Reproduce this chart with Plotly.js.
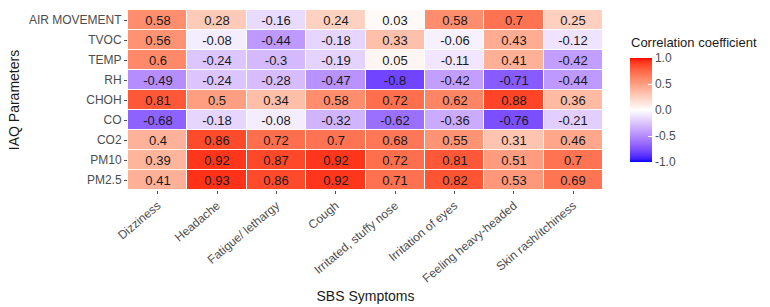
<!DOCTYPE html>
<html>
<head>
<meta charset="utf-8">
<script src="https://cdn.plot.ly/plotly-3.0.1.min.js"></script>
<style>
  html, body { margin: 0; padding: 0; background: #ffffff; }
  #chart { width: 770px; height: 307px; }
</style>
</head>
<body>
<div id="chart"></div>
<script>
// SBS symptoms (columns) and IAQ parameters (rows, listed top to bottom)
const symptoms = ["Dizziness", "Headache", "Fatigue/ lethargy", "Cough",
  "Irritated, stuffy nose", "Irritation of eyes", "Feeling heavy-headed", "Skin rash/itchiness"];
const parameters = ["AIR MOVEMENT", "TVOC", "TEMP", "RH", "CHOH", "CO", "CO2", "PM10", "PM2.5"];

const airMovement = [0.58, 0.28, -0.16, 0.24, 0.03, 0.58, 0.7, 0.25];
const tvoc        = [0.56, -0.08, -0.44, -0.18, 0.33, -0.06, 0.43, -0.12];
const temp        = [0.6, -0.24, -0.3, -0.19, 0.05, -0.11, 0.41, -0.42];
const rh          = [-0.49, -0.24, -0.28, -0.47, -0.8, -0.42, -0.71, -0.44];
const choh        = [0.81, 0.5, 0.34, 0.58, 0.72, 0.62, 0.88, 0.36];
const co          = [-0.68, -0.18, -0.08, -0.32, -0.62, -0.36, -0.76, -0.21];
const co2         = [0.4, 0.86, 0.72, 0.7, 0.68, 0.55, 0.31, 0.46];
const pm10        = [0.39, 0.92, 0.87, 0.92, 0.72, 0.81, 0.51, 0.7];
const pm25        = [0.41, 0.93, 0.86, 0.92, 0.71, 0.82, 0.53, 0.69];

const colorbarTicks = [-1, -0.5, 0, 0.5, 1];
const colorbarTickText = ["-1.0", "-0.5", "0.0", "0.5", "1.0"];
const legendTitle = "Correlation coefficient";

const zRows = [airMovement, tvoc, temp, rh, choh, co, co2, pm10, pm25];
const textRows = zRows.map(r => r.map(v => String(v)));

// Diverging blue-white-red scale interpolated in CIE Lab
function toLin(c) { c /= 255; return c <= 0.04045 ? c / 12.92 : Math.pow((c + 0.055) / 1.055, 2.4); }
function fromLin(c) {
  c = c <= 0.0031308 ? 12.92 * c : 1.055 * Math.pow(c, 1 / 2.4) - 0.055;
  return Math.round(Math.max(0, Math.min(1, c)) * 255);
}
const WX = 0.95047, WY = 1, WZ = 1.08883;
function rgbToLab(rgb) {
  const r = toLin(rgb[0]), g = toLin(rgb[1]), b = toLin(rgb[2]);
  const X = (0.4124 * r + 0.3576 * g + 0.1805 * b) / WX;
  const Y = (0.2126 * r + 0.7152 * g + 0.0722 * b) / WY;
  const Z = (0.0193 * r + 0.1192 * g + 0.9505 * b) / WZ;
  const f = t => t > 0.008856 ? Math.cbrt(t) : 7.787 * t + 16 / 116;
  const fx = f(X), fy = f(Y), fz = f(Z);
  return [116 * fy - 16, 500 * (fx - fy), 200 * (fy - fz)];
}
function labToRgb(lab) {
  const fy = (lab[0] + 16) / 116, fx = fy + lab[1] / 500, fz = fy - lab[2] / 200;
  const inv = t => { const t3 = t * t * t; return t3 > 0.008856 ? t3 : (t - 16 / 116) / 7.787; };
  const X = inv(fx) * WX, Y = inv(fy) * WY, Z = inv(fz) * WZ;
  const r = 3.2406 * X - 1.5372 * Y - 0.4986 * Z;
  const g = -0.9689 * X + 1.8758 * Y + 0.0415 * Z;
  const b = 0.0557 * X - 0.2040 * Y + 1.0570 * Z;
  return "rgb(" + fromLin(r) + "," + fromLin(g) + "," + fromLin(b) + ")";
}
const lowLab = rgbToLab([0, 0, 255]);
const midLab = rgbToLab([255, 255, 255]);
const highLab = rgbToLab([255, 0, 0]);
const scale = [];
const N = 40;
for (let i = 0; i <= N; i++) {
  const p = i / N;
  let a, b, t;
  if (p <= 0.5) { a = lowLab; b = midLab; t = p / 0.5; }
  else { a = midLab; b = highLab; t = (p - 0.5) / 0.5; }
  scale.push([p, labToRgb([0, 1, 2].map(k => a[k] + (b[k] - a[k]) * t))]);
}

const FONT = "Liberation Sans, Arial, sans-serif";

const trace = {
  type: "heatmap",
  x: symptoms,
  y: parameters,
  z: zRows,
  text: textRows,
  texttemplate: "%{text}",
  textfont: { family: FONT, size: 13, color: "#1a1a1a" },
  zmin: -1, zmax: 1,
  colorscale: scale,
  xgap: 1, ygap: 1,
  hoverongaps: false,
  colorbar: {
    thickness: 22,
    len: 104, lenmode: "pixels",
    x: 1.057, xanchor: "left", xpad: 0,
    y: 0.444, yanchor: "middle", ypad: 0,
    outlinewidth: 0,
    tickmode: "array", tickvals: colorbarTicks, ticktext: colorbarTickText,
    ticks: "inside", ticklen: 4, tickcolor: "#ffffff", tickwidth: 1,
    tickfont: { family: FONT, size: 12, color: "#4d4d4d" }
  }
};

const layout = {
  width: 770, height: 307,
  margin: { l: 128, r: 167, t: 10, b: 117 },
  paper_bgcolor: "#ffffff", plot_bgcolor: "#ffffff",
  font: { family: FONT },
  xaxis: {
    type: "category",
    tickangle: -40,
    ticks: "outside", ticklen: 3, tickcolor: "#4d4d4d", tickwidth: 1,
    tickfont: { family: FONT, size: 12, color: "#4d4d4d" },
    showgrid: false, zeroline: false, showline: false,
    automargin: false,
    title: { text: "SBS Symptoms", font: { family: FONT, size: 14, color: "#1a1a1a" }, standoff: 6 }
  },
  yaxis: {
    type: "category",
    autorange: "reversed",
    ticks: "outside", ticklen: 3, tickcolor: "#4d4d4d", tickwidth: 1,
    tickfont: { family: FONT, size: 12, color: "#4d4d4d" },
    showgrid: false, zeroline: false, showline: false,
    automargin: false,
    title: { text: "IAQ Parameters", font: { family: FONT, size: 14, color: "#1a1a1a" }, standoff: 6 }
  },
  // colour bar heading, placed just above the bar
  annotations: [{
    text: legendTitle,
    xref: "paper", yref: "paper",
    x: 1.0568, y: 0.772,
    xanchor: "left", yanchor: "bottom",
    showarrow: false, borderpad: 0,
    font: { family: FONT, size: 13, color: "#1a1a1a" }
  }]
};

Plotly.newPlot("chart", [trace], layout, { staticPlot: true, displayModeBar: false });
</script>
</body>
</html>
